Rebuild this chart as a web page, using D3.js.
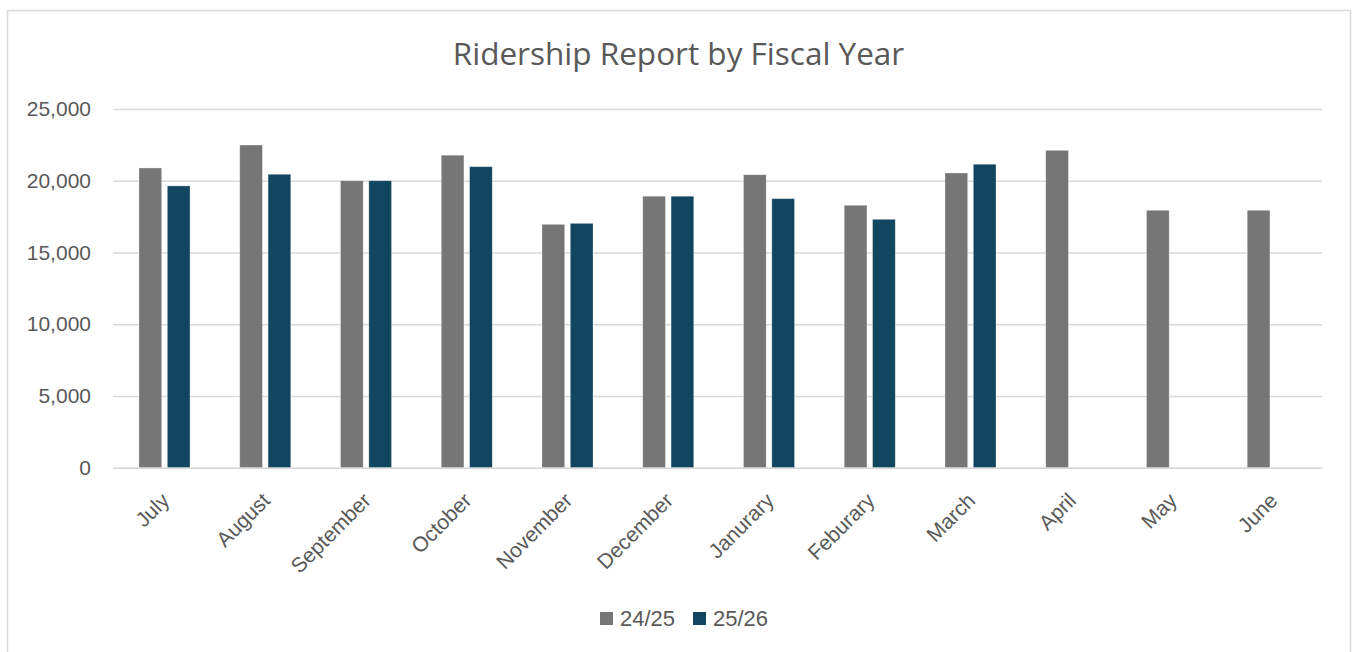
<!DOCTYPE html>
<html><head><meta charset="utf-8">
<script src="https://cdn.jsdelivr.net/npm/d3@7"></script>
<style>body{margin:0;background:#fff;}svg{display:block;}</style>
</head><body>
<svg id="chart" width="1352" height="652"></svg>
<script>
const months = ["July","August","September","October","November","December","Janurary","Feburary","March","April","May","June"];
const seriesNames = ["24/25","25/26"];
const values2425 = [20890,22490,20000,21780,16960,18920,20420,18290,20540,22120,17940,17940];
const values2526 = [19640,20450,20000,20980,17030,18920,18750,17310,21150,null,null,null];
const yTicks = [0,5000,10000,15000,20000,25000];
const colors = ["#767676","#124660"];

const svg = d3.select("#chart");
const m = {left:113, right:1322, top:109, bottom:467.7};
const font = "'Liberation Sans', Arial, sans-serif";

svg.append("rect").attr("x",7.5).attr("y",10.5).attr("width",1343).attr("height",700)
  .attr("fill","#fff").attr("stroke","#d9d9d9").attr("stroke-width",1.5);

svg.append("text").attr("x",678.5).attr("y",65).attr("text-anchor","middle")
  .attr("font-family","'Open Sans', sans-serif").attr("font-size",31.5).attr("fill","#595959")
  .text("Ridership Report by Fiscal Year");

const x0 = d3.scaleBand().domain(months).range([m.left, m.right]).padding(0);
const x1 = d3.scaleBand().domain(seriesNames).range([26, 77]).paddingInner(0.2);
const y = d3.scaleLinear().domain([0,25000]).range([m.bottom, m.top]);

const yAxis = d3.axisLeft(y).tickValues(yTicks).tickSize(-(m.right-m.left)).tickPadding(22)
  .tickFormat(d3.format(","));
const gy = svg.append("g").attr("transform",`translate(${m.left},0)`).call(yAxis);
gy.select(".domain").remove();
gy.selectAll(".tick line").attr("stroke","#d9d9d9").attr("stroke-width",1.6);
gy.selectAll(".tick text").attr("font-family",font).attr("font-size",21).attr("fill","#595959");

const data = months.map((mo,i)=>({month:mo, vals:[values2425[i], values2526[i]]}));
const groups = svg.append("g").selectAll("g").data(data).join("g")
  .attr("transform",d=>`translate(${x0(d.month)},0)`);
groups.selectAll("rect").data(d=>d.vals.map((v,j)=>({s:seriesNames[j], v, j})).filter(e=>e.v!=null))
  .join("rect")
  .attr("x",e=>x1(e.s)).attr("width",x1.bandwidth())
  .attr("y",e=>y(e.v)).attr("height",e=>y(0)-y(e.v))
  .attr("fill",e=>colors[e.j]).attr("stroke","#ffffff").attr("stroke-opacity",0.35).attr("stroke-width",0.8);

const xAxis = d3.axisBottom(x0).tickSize(0).tickPadding(0);
const gx = svg.append("g").attr("transform",`translate(0,${m.bottom})`).call(xAxis);
gx.select(".domain").attr("stroke","#d9d9d9").attr("stroke-width",1.6);
gx.selectAll(".tick text").attr("font-family",font).attr("font-size",21).attr("fill","#595959")
  .attr("text-anchor","end").attr("dy","0.35em")
  .attr("transform","translate(2,29) rotate(-45)");

const lg = svg.append("g");
const legendX = [600, 693];
seriesNames.forEach((s,i)=>{
  lg.append("rect").attr("x",legendX[i]).attr("y",612).attr("width",13).attr("height",13).attr("fill",colors[i]);
  lg.append("text").attr("x",legendX[i]+20).attr("y",618.5).attr("dy","0.35em")
    .attr("font-family",font).attr("font-size",22).attr("fill","#595959").text(s);
});
</script>
</body></html>
